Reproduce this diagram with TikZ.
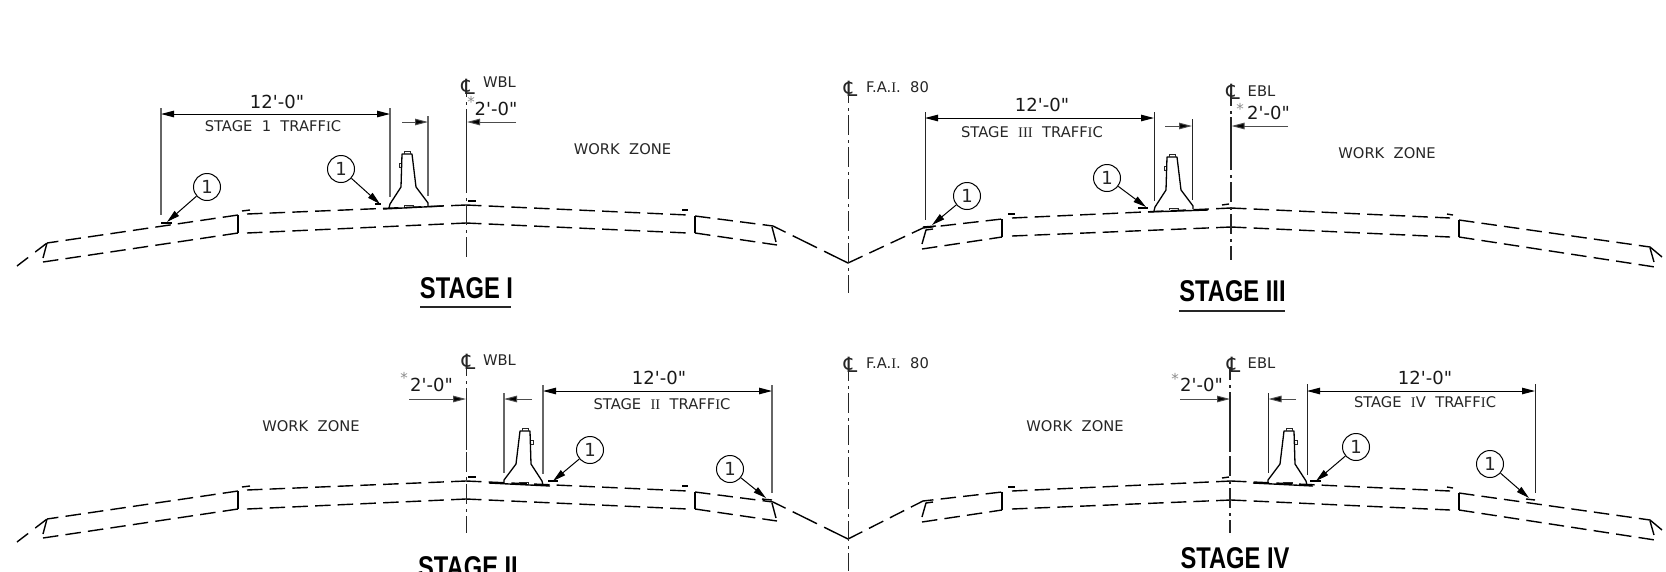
\documentclass[tikz,border=0pt]{standalone}
\usepackage{fontspec}
\usetikzlibrary{arrows.meta}
\setmainfont[Ligatures=TeXOff]{DejaVu Sans}
\newfontfamily\serifI{Liberation Serif}
\newfontfamily\stagefont[FakeStretch=0.79]{Liberation Sans}
\newcommand{\rI}{{\serifI I}}
\newcommand{\CLs}{\fontsize{21}{21}\selectfont\char"2104}
\tikzset{
  prof/.style={line width=1.4pt,dash pattern=on 15.5pt off 7.2pt},
  solidl/.style={line width=1.4pt},
  cline/.style={line width=1.1pt,black!85,dash pattern=on 20pt off 5pt on 3pt off 4pt},
  solidcl/.style={line width=1.1pt,black!85},
  ext/.style={line width=1.2pt,black!60},
  extk/.style={line width=1pt,black!85},
  dimarrow/.style={line width=1pt,black!70,-{Triangle[length=13pt,width=6.5pt,fill=black]}},
  dimboth/.style={line width=1pt,black,{Triangle[length=13pt,width=6.5pt]}-{Triangle[length=13pt,width=6.5pt]}},
  leader/.style={line width=1pt,black,-{Triangle[length=13pt,width=6.5pt]}},
  callout/.style={circle,draw,line width=1pt,minimum size=27pt,inner sep=0pt,font=\fontsize{18}{18}\selectfont,text=black!85},
  big/.style={inner sep=0pt,font=\fontsize{18}{18}\selectfont,text=black!90},
  small/.style={inner sep=0pt,font=\fontsize{14.7}{15}\selectfont,text=black!85},
  star/.style={inner sep=0pt,font=\fontsize{15}{15}\selectfont,text=black!45},
  stage/.style={inner sep=0pt,font=\fontsize{30}{30}\stagefont\bfseries\selectfont,text=black},
  uline/.style={line width=1.6pt,black!85},
  barr/.style={line width=1.3pt,line join=round},
  barrthin/.style={line width=1pt,black!85}
}
% barrier: anchored at its outer bottom corner, #3 = 1 or -1 for mirror
\newcommand{\barrier}[3]{%
  \begin{scope}[shift={(#1,#2)},xscale=#3]
    \draw[barr] (0,0) -- (1,-4) -- (12,-21) -- (13,-54) -- (23,-54) -- (27,-21) -- (39,-5) -- (39,-2);
    \draw[barrthin] (15,-54) -- (15,-57) -- (21,-57) -- (21,-54);
    \draw[barrthin] (12,-45) -- (10,-45) -- (10,-41) -- (12,-41);
    \draw[barrthin] (15,-1) -- (15,-3) -- (24,-3) -- (24,-1.5);
  \end{scope}}
% left half: outer ditch to the WBL crown
\newcommand{\profA}[1]{%
  \begin{scope}[shift={(0,#1)}]
    \draw[solidl,dash pattern=on 14pt off 9pt] (17,266) -- (47,243);
    \draw[prof,dash phase=4pt] (47,243) -- (238,215);
    \draw[prof] (43,262) -- (238,233);
    \draw[solidl] (47,243) -- (43,258);
    \draw[solidl] (238,215) -- (238,233);
    \draw[solidl] (242,211) -- (250,210);
    \draw[prof] (247,214) -- (466,205);
    \draw[prof] (247,233) -- (466,223);
    \draw[solidl] (468,201) -- (476,201);
    \draw[prof] (466,205) -- (688,215);
    \draw[prof] (466,223) -- (688,233);
    \draw[solidl] (682,210) -- (688,210);
    \draw[solidl] (695,216) -- (695,233);
    \draw[prof] (695,216) -- (773,226);
    \draw[prof] (695,233) -- (777,245);
    \draw[solidl] (772,227) -- (776,242);
    \draw[solidl,dash pattern=on 27pt off 8pt,dash phase=13pt] (773,226) -- (848,263);
  \end{scope}}
% right half: median ditch to the outer end; #2 = y of ditch point
\newcommand{\profC}[2]{%
  \draw[solidl,dash pattern=on 16pt off 7.5pt] (848,#2) -- (923,228+#1);
  \begin{scope}[shift={(0,#1)}]
    \draw[prof,dash phase=5pt] (923,228) -- (1002,219);
    \draw[prof] (922,249) -- (1002,237);
    \draw[solidl] (933,229) -- (926,230) -- (922,244);
    \draw[solidl] (1002,219) -- (1002,237);
    \draw[solidl] (1008,214) -- (1015,214);
    \draw[prof] (1012,218) -- (1231,208);
    \draw[prof] (1012,236) -- (1231,227);
    \draw[solidl] (1222,205) -- (1229,204);
    \draw[prof] (1231,208) -- (1450,218);
    \draw[prof] (1231,227) -- (1450,237);
    \draw[solidl] (1447,214) -- (1453,215);
    \draw[solidl] (1459,220) -- (1459,237);
    \draw[prof] (1459,220) -- (1650,247);
    \draw[prof] (1459,237) -- (1655,267);
    \draw[solidl] (1650,247) -- (1662,257);
    \draw[solidl] (1650,248) -- (1654,262);
  \end{scope}}
\begin{document}
\begin{tikzpicture}[x=1pt,y=-1pt]
\fill[white] (0,0) rectangle (1666,571);
\clip (0,0) rectangle (1666,571);

% ---------- profiles ----------
\profA{0}
\profA{276}
\profC{0}{263}
\profC{273}{539}

% ---------- centre lines ----------
\coordinate (clAt) at (466.5,84);  \coordinate (clAb) at (466.5,257);
\coordinate (clBt) at (848.5,90);  \coordinate (clBb) at (848.5,293);
\coordinate (clCt) at (1231,93);   \coordinate (clCb) at (1231,260);
\coordinate (clDt) at (466.5,363); \coordinate (clDb) at (466.5,533);
\coordinate (clEt) at (848.5,368); \coordinate (clEb) at (848.5,571);
\coordinate (clFt) at (1230,367);  \coordinate (clFb) at (1230,533);
\draw[cline,dash phase=7pt] (clAt) -- (clAb);
\draw[cline,dash phase=7pt] (clBt) -- (clBb);
\draw[cline,dash phase=7pt] (clCt) -- (clCb);
\draw[cline,dash phase=7pt] (clDt) -- (clDb);
\draw[cline,dash phase=7pt] (clEt) -- (clEb);
\draw[cline,dash phase=7pt] (clFt) -- (clFb);
\draw[solidcl] (466.5,115) -- (466.5,177);
\draw[solidcl] (1231,117) -- (1231,167);
\draw[solidcl] (466.5,392) -- (466.5,450);
\draw[solidcl] (1230,392) -- (1230,450);

% ---------- barriers ----------
\barrier{389}{208}{1}
\draw[solidl] (383,209) -- (443,206);
\barrier{1154}{211}{1}
\draw[solidl] (1148,212) -- (1208,210);
\barrier{543}{485}{-1}
\draw[solidl] (489,483) -- (550,486);
\barrier{1307}{485}{-1}
\draw[solidl] (1253,483) -- (1313,486);

% ---------- Stage I ----------
\draw[ext] (161,108) -- (161,215);
\draw[ext] (390,108) -- (390,197);
\draw[ext] (428,116) -- (428,196);
\coordinate (a1) at (161,114); \coordinate (a2) at (390,114);
\draw[dimboth] (a1) -- (a2);
\coordinate (a3) at (402,122); \coordinate (a4) at (428,122);
\draw[dimarrow] (a3) -- (a4);
\coordinate (a5) at (516,122); \coordinate (a6) at (467,122);
\draw[dimarrow] (a5) -- (a6);
\node[big] (t1) at (277,102) {12'-0"};
\node[small] (t2) at (273,126) {STAGE\ \ 1\ \ TRAFF\rI C};
\node[big] (t3) at (496,109) {2'-0"};
\node[star] (s1) at (471,102) {*};
\node[small] (cl1) at (468,87) {\CLs};
\node[small] (w1) at (499.5,82) {WBL};
\node[small] (z1) at (622.5,149) {WORK\ \ ZONE};
\node[callout] (c1) at (207,187) {1};
\coordinate (c1t) at (167,222);
\draw[leader] (c1) -- (c1t);
\draw[solidl] (161,223) -- (172,223);
\node[callout] (c2) at (341,169) {1};
\coordinate (c2t) at (380,204);
\draw[leader] (c2) -- (c2t);
\draw[solidl] (375,204) -- (381,204);
\node[stage] (st1) at (466.5,288) {STAGE I};
\draw[uline] (420,307) -- (511,307);

% ---------- F.A.I. labels ----------
\node[small] (cl2) at (850.5,89) {\CLs};
\node[small] (f1) at (897.5,87) {F.A.\rI.\ \ 80};
\node[small] (cl3) at (850.5,365) {\CLs};
\node[small] (f2) at (897.5,363) {F.A.\rI.\ \ 80};

% ---------- Stage III ----------
\draw[extk] (925,112) -- (925,220);
\draw[extk] (1154,112) -- (1154,201);
\draw[extk] (1192,119) -- (1192,200);
\coordinate (b1) at (925,118); \coordinate (b2) at (1154,118);
\draw[dimboth] (b1) -- (b2);
\coordinate (b3) at (1165,126); \coordinate (b4) at (1192,126);
\draw[dimarrow] (b3) -- (b4);
\coordinate (b5) at (1288,126); \coordinate (b6) at (1231.5,126);
\draw[dimarrow] (b5) -- (b6);
\node[big] (t4) at (1042,105) {12'-0"};
\node[small] (t5) at (1032,132) {STAGE\ \ \rI\rI\rI\ \ TRAFF\rI C};
\node[big] (t6) at (1268.5,113) {2'-0"};
\node[star] (s2) at (1240,109) {*};
\node[small] (cl4) at (1233,92) {\CLs};
\node[small] (w2) at (1261.5,91) {EBL};
\node[small] (z2) at (1387,153) {WORK\ \ ZONE};
\node[callout] (c3) at (967,196) {1};
\coordinate (c3t) at (932,225);
\draw[leader] (c3) -- (c3t);
\draw[solidl] (923,227) -- (936,226);
\node[callout] (c4) at (1107,178) {1};
\coordinate (c4t) at (1146,207);
\draw[leader] (c4) -- (c4t);
\draw[solidl] (1138,208) -- (1148,208);
\node[stage] (st3) at (1232.5,291.5) {STAGE III};
\draw[uline] (1179,311) -- (1285,311);

% ---------- Stage II ----------
\draw[ext] (543,385) -- (543,474);
\draw[ext] (772,385) -- (772,493);
\draw[ext] (504,393) -- (504,473);
\coordinate (d1) at (543,391); \coordinate (d2) at (772,391);
\draw[dimboth] (d1) -- (d2);
\coordinate (d3) at (532,399); \coordinate (d4) at (504,399);
\draw[dimarrow] (d3) -- (d4);
\coordinate (d5) at (409,399); \coordinate (d6) at (466,399);
\draw[dimarrow] (d5) -- (d6);
\node[big] (t7) at (659,378) {12'-0"};
\node[small] (t8) at (662,404) {STAGE\ \ \rI\rI\ \ TRAFF\rI C};
\node[big] (t9) at (431.5,385) {2'-0"};
\node[star] (s3) at (404,378) {*};
\node[small] (cl5) at (468.5,362) {\CLs};
\node[small] (w3) at (499.5,360) {WBL};
\node[small] (z3) at (311,426) {WORK\ \ ZONE};
\node[callout] (c5) at (590,450) {1};
\coordinate (c5t) at (553,481);
\draw[leader] (c5) -- (c5t);
\draw[solidl] (548,481) -- (558,481);
\node[callout] (c6) at (730,469) {1};
\coordinate (c6t) at (766,498);
\draw[leader] (c6) -- (c6t);
\draw[solidl] (762,499) -- (772,500);
\node[stage] (st2) at (468,567) {STAGE II};

% ---------- Stage IV ----------
\draw[extk] (1268.5,393) -- (1268.5,473);
\draw[extk] (1307,384) -- (1307,475);
\draw[extk] (1535,384) -- (1535,493);
\coordinate (e1) at (1307,391); \coordinate (e2) at (1535,391);
\draw[dimboth] (e1) -- (e2);
\coordinate (e3) at (1296,399); \coordinate (e4) at (1268.5,399);
\draw[dimarrow] (e3) -- (e4);
\coordinate (e5) at (1180,399); \coordinate (e6) at (1230,399);
\draw[dimarrow] (e5) -- (e6);
\node[big] (t10) at (1425,378) {12'-0"};
\node[small] (t11) at (1425,402) {STAGE\ \ \rI V\ \ TRAFF\rI C};
\node[big] (t12) at (1201.5,385) {2'-0"};
\node[star] (s4) at (1175,379) {*};
\node[small] (cl6) at (1233.5,365) {\CLs};
\node[small] (w4) at (1261.5,363) {EBL};
\node[small] (z4) at (1075,426) {WORK\ \ ZONE};
\node[callout] (c7) at (1356,447) {1};
\coordinate (c7t) at (1316,481);
\draw[leader] (c7) -- (c7t);
\draw[solidl] (1310,481) -- (1321,481);
\node[callout] (c8) at (1490,464) {1};
\coordinate (c8t) at (1529,498);
\draw[leader] (c8) -- (c8t);
\draw[solidl] (1526,499) -- (1535,500);
\node[stage] (st4) at (1235,558.5) {STAGE IV};
\end{tikzpicture}
\end{document}
